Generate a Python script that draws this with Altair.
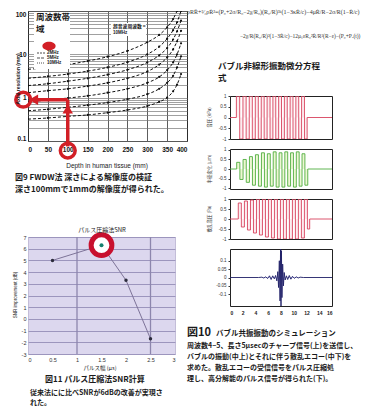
import altair as alt
import pandas as pd

JP = "Noto Sans CJK JP"
LAT = "Liberation Sans"
RED = "#d21f26"
PLAIN = "'' + datum.value"

# ---------------- 図9 : depth vs. axial resolution ----------------
depth_mm = [0, 50, 100, 150, 200, 250, 300, 330, 350, 365, 375, 385]
res_curve_1 = [4.5, 5.0, 5.8, 7.0, 8.8, 12.0, 19.0, 28.0, 42.0, 65.0, 100.0, 160.0]
res_curve_2 = [2.8, 3.1, 3.5, 4.1, 5.0, 6.6, 10.0, 15.0, 23.0, 36.0, 55.0, 100.0]
res_curve_3 = [1.9, 2.1, 2.4, 2.8, 3.4, 4.4, 6.5, 9.5, 14.0, 22.0, 34.0, 60.0]
res_curve_4 = [1.3, 1.45, 1.6, 1.85, 2.2, 2.8, 4.0, 5.8, 8.5, 13.0, 20.0, 35.0]
res_curve_5 = [0.8, 0.88, 0.98, 1.1, 1.3, 1.6, 2.2, 3.0, 4.3, 6.5, 10.0, 18.0]
res_curve_6 = [0.5, 0.54, 0.6, 0.67, 0.77, 0.92, 1.2, 1.6, 2.2, 3.2, 5.0, 9.0]
res_curve_7 = [0.32, 0.34, 0.37, 0.4, 0.45, 0.52, 0.64, 0.8, 1.0, 1.4, 2.0, 3.5]
depth_ticks = [0, 50, 100, 150, 200, 250, 300, 350, 400]
res_grid = [0.1, 0.2, 0.3, 0.4, 0.5, 0.6, 0.7, 0.8, 0.9,
            1, 2, 3, 4, 5, 6, 7, 8, 9,
            10, 20, 30, 40, 50, 60, 70, 80, 90, 100]
# red call-out: depth 100 mm -> resolution 1 mm
callout_line_depth = [100, 100]
callout_line_depth2 = [100, 20]
callout_line_res = [0.075, 0.9]
callout_line_res2 = [0.9, 0.9]
callout_head_depth = [14, 100]
callout_head_res = [0.9, 0.55]
callout_head_shape = ["triangle-left", "triangle-up"]
callout_ring_depth = [-12, 100]
callout_ring_res = [0.9, 0.06]

# ---------------- 図11 : pulse compression SNR ----------------
pulse_width = [0.5, 1.5, 2.0, 2.5]
snr_db = [5.0, 6.3, 3.3, -1.7]
pw_ticks = [0, 0.5, 1, 1.5, 2, 2.5, 3]
pw_grid = [1.0, 2.5]
snr_ticks = [-3, -2, -1, 0, 1, 2, 3, 4, 5, 6, 7]
best_pw = [1.5]
best_snr = [6.3]

# ---------------- 図10 : bubble simulation waveforms ----------------
chirp_t = [0, 1.0, 1.52, 2.03, 2.53, 3.02, 3.5, 3.97, 4.44, 4.9, 5.36, 5.82, 6.28, 6.73,
           7.18, 7.63, 8.08, 8.53, 8.98, 9.43, 9.88, 10.33, 10.78, 11.23, 11.68, 12.1, 16]
chirp_v = [0, 1, -1, 1, -1, 1, -1, 1, -1, 1, -1, 1, -1, 1, -1, 1, -1, 1, -1, 1, -1, 1, -1,
           1, -1, 0, 0]
bubble_t = [0, 1.05, 1.55, 2.05, 2.55, 3.05, 3.52, 3.99, 4.46, 4.93, 5.4, 5.86, 6.32, 6.78,
            7.24, 7.7, 8.15, 8.6, 9.05, 9.5, 9.95, 10.4, 10.85, 11.3, 11.75, 12.2, 16]
bubble_v = [0, 0.35, -0.55, 0.5, -0.7, 0.65, -0.85, 0.75, -0.9, 0.85, -0.95, 0.8, -0.9, 0.9,
            -0.95, 0.85, -0.95, 0.9, -0.9, 0.85, -0.95, 0.9, -0.9, 0.8, -0.85, 0, 0]
echo_t = [0, 1.3, 1.78, 2.26, 2.74, 3.21, 3.68, 4.15, 4.62, 5.09, 5.56, 6.03, 6.5, 6.97,
          7.44, 7.91, 8.38, 8.85, 9.32, 9.79, 10.26, 10.73, 11.2, 11.67, 12.14, 12.5, 16]
echo_v = [0, 0.8, -0.4, 0.9, -0.55, 0.95, -0.7, 1, -0.8, 1, -0.9, 1, -0.95, 1, -1, 1, -1,
          1, -1, 1, -1, 1, -0.95, 1, -0.5, 0, 0]
comp_t = [0, 4.5, 5.0, 5.3, 5.6, 5.9, 6.2, 6.45, 6.7, 6.95, 7.15, 7.35, 7.5, 7.62, 7.74,
          7.85, 7.93, 8.0, 8.07, 8.15, 8.26, 8.38, 8.5, 8.65, 8.85, 9.05, 9.3, 9.55, 9.8,
          10.1, 10.4, 10.7, 11.0, 11.5, 16]
comp_v = [0, 0, 0.002, -0.003, 0.004, -0.006, 0.01, -0.012, 0.01, -0.008, 0.012, -0.02,
          0.035, -0.06, 0.1, -0.14, 0.17, -0.17, 0.16, -0.12, 0.08, -0.05, 0.03, -0.015,
          0.01, -0.012, 0.012, -0.01, 0.007, -0.005, 0.004, -0.003, 0.002, 0, 0]
time_ticks = [0, 2, 4, 6, 8, 10, 12, 14, 16]


def note(text, x, y, size=8, weight="bold", align="left", baseline="middle",
         font=JP, color="#1a1a1a", angle=0):
    return alt.Chart(pd.DataFrame({"label": [text]})).mark_text(
        align=align, baseline=baseline, fontSize=size, fontWeight=weight,
        font=font, color=color, angle=angle,
    ).encode(x=alt.value(x), y=alt.value(y), text="label:N")


def box(x, x2, y, y2, fill="white"):
    return alt.Chart(pd.DataFrame({"k": [0]})).mark_rect(color=fill).encode(
        x=alt.value(x), x2=alt.value(x2), y=alt.value(y), y2=alt.value(y2))


# ---------- Fig 9 ----------
rows = []
for name, vals in [("1", res_curve_1), ("2", res_curve_2), ("3", res_curve_3),
                   ("4", res_curve_4), ("5", res_curve_5), ("6", res_curve_6),
                   ("7", res_curve_7)]:
    for d, v in zip(depth_mm, vals):
        rows.append({"curve": name, "depth": d, "res": v})
fig9_df = pd.DataFrame(rows)

sx9 = alt.Scale(domain=[0, 400], nice=False)
sy9 = alt.Scale(type="log", domain=[0.1, 100], nice=False)
lab9 = ("datum.value == 100 ? '100' : datum.value == 10 ? '10' : "
        "datum.value == 1 ? '1' : datum.value == 0.1 ? '0.1' : ''")

curves = alt.Chart(fig9_df).mark_line(
    color="#111", strokeWidth=1, strokeDash=[3, 2], interpolate="monotone", clip=True
).encode(
    x=alt.X("depth:Q", scale=sx9, axis=alt.Axis(
        values=depth_ticks, tickCount=40, title=None, grid=True, gridColor="#333",
        gridWidth=0.8, ticks=False, domain=False, labelFont=LAT, labelFontWeight="bold",
        labelFontSize=6.5, labelPadding=5, labelColor="#111", labelOverlap=False,
        labelExpr=PLAIN)),
    y=alt.Y("res:Q", scale=sy9, axis=alt.Axis(
        values=res_grid, tickCount=40, title=None, grid=True, gridColor="#777",
        gridWidth=0.7, ticks=False, domain=False, labelExpr=lab9, labelOverlap=False,
        labelFlush=True, labelFont=LAT, labelFontWeight="bold", labelFontSize=6.5,
        labelPadding=2, labelColor="#111")),
    detail="curve:N",
)
dots = alt.Chart(fig9_df).mark_point(filled=True, color="#111", size=5, opacity=1,
                                     clip=True).encode(
    x=alt.X("depth:Q", scale=sx9), y=alt.Y("res:Q", scale=sy9))

call_df = pd.DataFrame({"depth": callout_line_depth, "depth2": callout_line_depth2,
                        "res": callout_line_res, "res2": callout_line_res2})
call_lines = alt.Chart(call_df).mark_rule(color=RED, strokeWidth=3.5).encode(
    x=alt.X("depth:Q", scale=sx9), x2="depth2:Q",
    y=alt.Y("res:Q", scale=sy9), y2="res2:Q")
head_df = pd.DataFrame({"depth": callout_head_depth, "res": callout_head_res,
                        "shape": callout_head_shape})
call_heads = alt.Chart(head_df).mark_point(filled=True, color=RED, size=110,
                                           opacity=1).encode(
    x=alt.X("depth:Q", scale=sx9), y=alt.Y("res:Q", scale=sy9),
    shape=alt.Shape("shape:N", scale=None))
ring_df = pd.DataFrame({"depth": callout_ring_depth, "res": callout_ring_res})
call_rings = alt.Chart(ring_df).mark_point(filled=False, color=RED, strokeWidth=3.5,
                                           size=220, opacity=1).encode(
    x=alt.X("depth:Q", scale=sx9), y=alt.Y("res:Q", scale=sy9))

blob = alt.Chart(pd.DataFrame({"k": [0]})).mark_point(
    filled=True, color=RED, opacity=1, size=90,
    shape="M-1.4,0 A1.4,0.9 0 1,1 1.4,0 A1.4,0.9 0 1,1 -1.4,0 Z"
).encode(x=alt.value(21), y=alt.value(35))

leg_lines = [
    alt.Chart(pd.DataFrame({"k": [0]})).mark_rule(color="#222", strokeWidth=0.8,
                                                  strokeDash=dash).encode(
        x=alt.value(9), x2=alt.value(17), y=alt.value(yy))
    for yy, dash in [(42, [2, 1]), (47, [3, 1]), (52, [1, 1])]
]

fig9 = alt.layer(
    curves, dots,
    box(6, 42, 1, 58),
    note("周波数帯", 8, 6, size=8.5),
    note("域", 8, 17.5, size=8.5),
    blob,
    *leg_lines,
    note("2MHz", 19, 42, size=4.5, font=LAT),
    note("5MHz", 19, 47, size=4.5, font=LAT),
    note("10MHz", 19, 52, size=4.5, font=LAT),
    box(83, 118, 12, 25),
    note("超音波周波数 =", 85, 16, size=4.8),
    note("10MHz", 85, 22, size=4.5, font=LAT),
    call_lines, call_heads, call_rings,
    note("Axial resolution (mm)", -10.5, 68, size=5, font=LAT, angle=270,
         align="center"),
    note("Depth in human tissue (mm)", 79, 155, size=6.5, font=LAT, align="center",
         weight="normal"),
    note("図9 FWDW法 深さによる解像度の検証", -13, 167, size=8),
    note("深さ100mmで1mmの解像度が得られた。", -13, 179, size=8),
).properties(width=159, height=130,
             view=alt.ViewBackground(stroke="#111", strokeWidth=1, fill="white"))

# ---------- Fig 11 ----------
sx11 = alt.Scale(domain=[0, 3], nice=False)
sy11 = alt.Scale(domain=[-3, 7], nice=False)
x11_axis = alt.Axis(values=pw_ticks, tickCount=40, labelExpr=PLAIN, title=None,
                    grid=False, ticks=False, domain=False, labelFont=LAT,
                    labelFontSize=5.5, labelPadding=3, labelColor="#333",
                    labelOverlap=False)
y11_axis = alt.Axis(values=snr_ticks, tickCount=40, labelExpr=PLAIN, title=None,
                    grid=True, gridColor="#9c95bd", gridWidth=1.2, ticks=False,
                    domain=False, labelFont=LAT, labelFontSize=5.5, labelPadding=2,
                    labelColor="#333", labelOverlap=False)
snr_df = pd.DataFrame({"pw": pulse_width, "snr": snr_db})
vgrid = alt.Chart(pd.DataFrame({"pw": pw_grid})).mark_rule(
    color="#8d86ad", strokeWidth=1.3).encode(x=alt.X("pw:Q", scale=sx11, axis=x11_axis))
snr_line = alt.Chart(snr_df).mark_line(color="#7d7398", strokeWidth=1).encode(
    x=alt.X("pw:Q", scale=sx11, axis=x11_axis),
    y=alt.Y("snr:Q", scale=sy11, axis=y11_axis),
)
snr_pts = alt.Chart(snr_df).mark_point(filled=True, color="#2b2b3b", size=12,
                                       opacity=1).encode(
    x=alt.X("pw:Q", scale=sx11), y=alt.Y("snr:Q", scale=sy11))
best_df = pd.DataFrame({"pw": best_pw, "snr": best_snr})
best_halo = alt.Chart(best_df).mark_point(filled=True, color="white", size=420,
                                          opacity=1).encode(
    x=alt.X("pw:Q", scale=sx11), y=alt.Y("snr:Q", scale=sy11))
best_ring = alt.Chart(best_df).mark_point(filled=False, color="#c8102e", strokeWidth=5,
                                          size=430, opacity=1).encode(
    x=alt.X("pw:Q", scale=sx11), y=alt.Y("snr:Q", scale=sy11))
best_dot = alt.Chart(best_df).mark_point(filled=True, color="#14806e", size=16,
                                         opacity=1).encode(
    x=alt.X("pw:Q", scale=sx11), y=alt.Y("snr:Q", scale=sy11))

fig11 = alt.layer(
    vgrid, snr_line, snr_pts, best_halo, best_ring, best_dot,
    note("パルス圧縮法SNR", 74, -7, size=6, align="center", weight="normal"),
    note("SNR improvement (dB)", -12, 58, size=4.5, font=LAT, angle=270,
         align="center", weight="normal"),
    note("パルス幅 (μs)", 72, 131, size=5.5, align="center", weight="normal"),
    note("図11 パルス圧縮法SNR計算", 17, 143, size=8),
    note("従来法にに比べSNRが6dBの改善が実現さ", 2, 156, size=7),
    note("れた。", 2, 166, size=7),
).properties(width=147, height=117,
             view=alt.ViewBackground(stroke="#c3bdd8", strokeWidth=1, fill="#dcd7ee"))

# ---------- Fig 10 ----------
st = alt.Scale(domain=[0, 16], nice=False)


def wave(times, vals, color, fill, fill_op, height, ydom, yvals, ytitle, interp,
         show_x=False):
    df = pd.DataFrame({"t": times, "v": vals})
    sy = alt.Scale(domain=ydom, nice=False)
    if show_x:
        xax = alt.Axis(values=time_ticks, tickCount=40, labelExpr=PLAIN, title=None,
                       grid=False, ticks=False, domain=False, labelFont=LAT,
                       labelFontWeight="bold", labelFontSize=5, labelPadding=4,
                       labelColor="#222", labelOverlap=False)
    else:
        xax = alt.Axis(values=time_ticks, tickCount=40, title=None, grid=False,
                       ticks=False, domain=False, labels=False)
    yax = alt.Axis(values=yvals, tickCount=40, labelExpr=PLAIN, title=None, grid=False,
                   ticks=True, tickSize=2, tickColor="#333", domain=False,
                   labelFont=LAT, labelFontSize=4.5, labelPadding=2, labelColor="#333",
                   labelOverlap=False)
    area = alt.Chart(df).mark_area(interpolate=interp, color=fill, opacity=fill_op,
                                   clip=True).encode(
        x=alt.X("t:Q", scale=st, axis=xax), y=alt.Y("v:Q", scale=sy, axis=yax))
    line = alt.Chart(df).mark_line(interpolate=interp, color=color, strokeWidth=0.9,
                                   clip=True).encode(
        x=alt.X("t:Q", scale=st, axis=xax), y=alt.Y("v:Q", scale=sy, axis=yax))
    title = note(ytitle, -20, height / 2, size=4.5, angle=270, align="center",
                 weight="normal", color="#333")
    return area, line, title


a1, l1, t1 = wave(chirp_t, chirp_v, "#d8435e", "#f3b3c1", 0.25, 43, [-1, 1],
                  [-1, -0.5, 0, 0.5, 1], "音圧 (kPa)", "step-after")
p1 = alt.layer(a1, l1, t1).properties(
    width=102, height=43, view=alt.ViewBackground(stroke="#222", strokeWidth=1))
a2, l2, t2 = wave(bubble_t, bubble_v, "#4fae3f", "#d7ee9c", 0.45, 40, [-1.05, 1.05],
                  [-1, -0.5, 0, 0.5, 1], "半径変化 (μm)", "step-after")
p2 = alt.layer(a2, l2, t2).properties(
    width=102, height=40, view=alt.ViewBackground(stroke="#222", strokeWidth=1))
a3, l3, t3 = wave(echo_t, echo_v, "#d8435e", "#f3b3c1", 0.25, 40, [-1, 1],
                  [-1, -0.5, 0, 0.5, 1], "散乱音圧 (Pa)", "step-after")
p3 = alt.layer(a3, l3, t3).properties(
    width=102, height=40, view=alt.ViewBackground(stroke="#222", strokeWidth=1))
a4, l4, t4 = wave(comp_t, comp_v, "#1f1f66", "#7f7fe6", 0.8, 57, [-0.17, 0.17],
                  [-0.1, -0.05, 0, 0.05, 0.1], "", "linear", show_x=True)
p4 = alt.layer(
    a4, l4,
    note("図10", -43, 84, size=11),
    note("バブル共振振動のシミュレーション", -14, 85, size=7.5),
    note("周波数4~5、長さ5μsecのチャープ信号(上)を送信し、", -43, 97, size=7),
    note("バブルの振動(中上)とそれに伴う散乱エコー(中下)を", -43, 108, size=7),
    note("求めた。散乱エコーの受信信号をパルス圧縮処", -43, 119, size=7),
    note("理し、高分解能のパルス信号が得られた(下)。", -43, 130, size=7),
).properties(width=102, height=57,
             view=alt.ViewBackground(stroke="#222", strokeWidth=1))

formula = alt.layer(
    note("ρRR̈+³⁄₂ρṘ²=(P₀+2σ/R₀−2χ/R₀)(R₀/R)³ᵏ(1−3κṘ/c)−4μṘ/R−2σ/R(1−Ṙ/c)",
         -43, 1, size=6, font="Liberation Serif", weight="normal", color="#333"),
    note("−2χ/R(R₀/R)²(1−3Ṙ/c)−12μₛεR₀²Ṙ/R³(R−ε)−(P₀+Pₐ(t))",
         10, 25, size=5.5, font="Liberation Serif", weight="normal", color="#333"),
    note("バブル非線形振動微分方程", -12, 55, size=8.5),
    note("式", -12, 67, size=8.5),
).properties(width=102, height=75,
             view=alt.ViewBackground(stroke="transparent", fill="white"))

left = alt.vconcat(fig9, fig11, spacing=96, bounds="flush")
right = alt.vconcat(formula, p1, p2, p3, p4, spacing=10, bounds="flush")
chart = alt.hconcat(left, right, spacing=-2).properties(
    padding={"left": 0, "top": 0, "right": 0, "bottom": 0},
    background="white",
).configure_view(strokeWidth=1)

chart.save("out.html", embed_options={"renderer": "svg", "actions": False})
